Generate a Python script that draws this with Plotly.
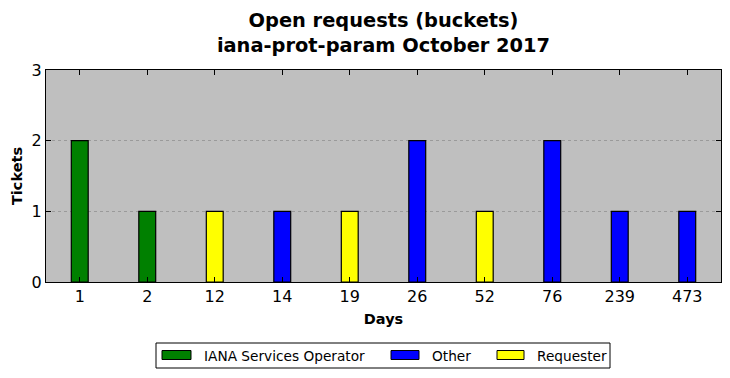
import plotly.graph_objects as go

days = ["1", "2", "12", "14", "19", "26", "52", "76", "239", "473"]
iana = [2, 1, None, None, None, None, None, None, None, None]
other = [None, None, None, 1, None, 2, None, 2, 1, 1]
requester = [None, None, 1, None, 1, None, 1, None, None, None]

series = [
    ("IANA Services Operator", iana, "#008000"),
    ("Other", other, "#0000ff"),
    ("Requester", requester, "#ffff00"),
]

W, H = 730, 378
L, R, T, B = 46, 9, 70, 96
PW, PH = W - L - R, H - T - B


def px(x):
    return (x - L) / PW


def py(y):
    return (H - B - y) / PH


fig = go.Figure()
for name, vals, color in series:
    fig.add_trace(go.Bar(
        x=days, y=vals, name=name, width=0.25, showlegend=False,
        marker=dict(color=color, line=dict(color="black", width=1.2)),
    ))

font = "DejaVu Sans"

# Custom legend (wide swatches like the reference)
shapes = [dict(type="rect", xref="paper", yref="paper",
               x0=px(156), x1=px(610), y0=py(368), y1=py(343),
               line=dict(color="black", width=1), fillcolor="white", layer="above")]
annotations = []
swatch_x = [(162, 191), (391, 419), (497, 524)]
text_x = [202, 430, 535]
for (name, _, color), (sx0, sx1), tx in zip(series, swatch_x, text_x):
    shapes.append(dict(type="rect", xref="paper", yref="paper",
                       x0=px(sx0), x1=px(sx1), y0=py(359.5), y1=py(350.5),
                       line=dict(color="black", width=1), fillcolor=color, layer="above"))
    annotations.append(dict(text=name, xref="paper", yref="paper",
                            x=px(tx), y=py(355.5), xanchor="left", yanchor="middle",
                            showarrow=False, font=dict(size=13.7, family=font, color="black")))

fig.update_layout(
    width=W, height=H,
    margin=dict(l=L, r=R, t=T, b=B),
    paper_bgcolor="white", plot_bgcolor="#bfbfbf",
    barmode="overlay",
    showlegend=False,
    font=dict(family=font, color="black"),
    title=dict(
        text="<b>Open requests (buckets)<br>iana-prot-param October 2017</b>",
        x=0.5, xref="paper", xanchor="center", y=0.928, yanchor="top",
        font=dict(size=19.4, family=font),
        automargin=False,
    ),
    shapes=shapes,
    annotations=annotations,
    xaxis=dict(
        type="category", range=[-0.5, 9.5], automargin=False,
        showline=True, linecolor="black", linewidth=1, mirror="ticks",
        ticks="inside", ticklen=5, tickcolor="black",
        tickfont=dict(size=16), showgrid=False,
        title=dict(text="<b>Days</b>", font=dict(size=14.5), standoff=8),
    ),
    yaxis=dict(
        range=[0, 3], dtick=1, automargin=False,
        showline=True, linecolor="black", linewidth=1, mirror="ticks",
        ticks="inside", ticklen=5, tickcolor="black",
        tickfont=dict(size=16),
        showgrid=True, gridcolor="#9a9a9a", griddash="dot", gridwidth=1,
        zeroline=False,
        title=dict(text="<b>Tickets</b>", font=dict(size=14.5), standoff=5),
    ),
)
fig.write_html("out.html", config={"displayModeBar": False},
               post_script="document.body.style.margin='0';")
